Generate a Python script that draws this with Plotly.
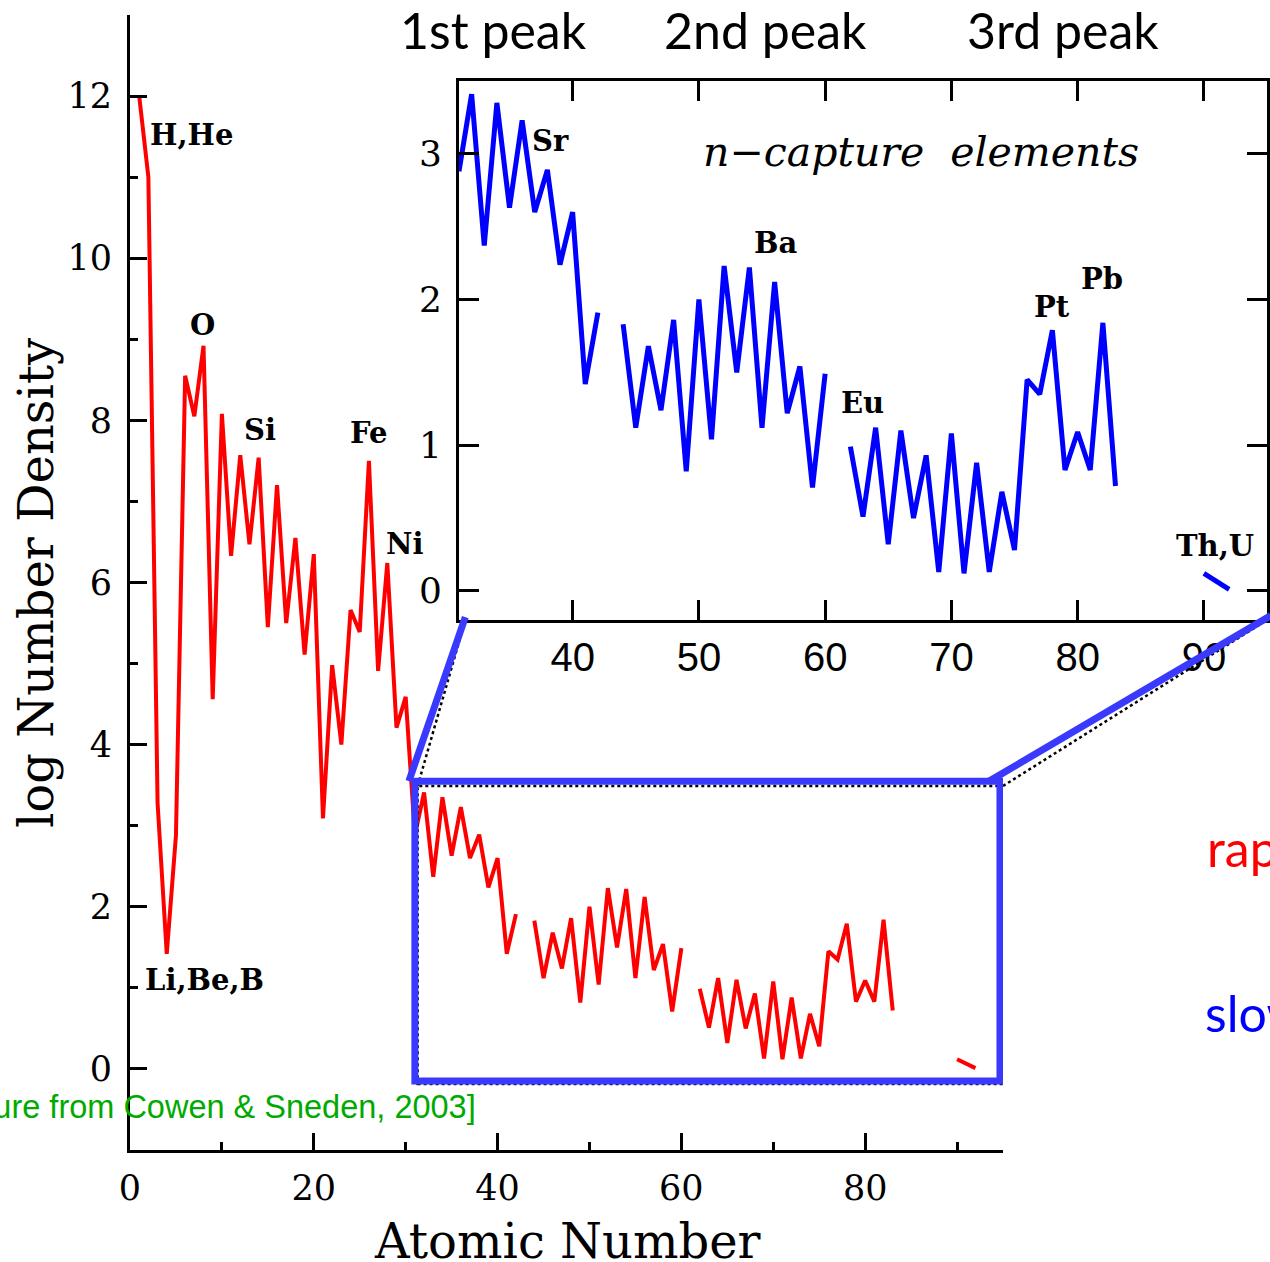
import plotly.graph_objects as go

# ---------------- data ----------------
# Z = atomic number, v = log number density
seg1_z = list(range(1, 43))
seg1_v = [12.00, 11.00, 3.28, 1.42, 2.88, 8.55, 8.05, 8.92, 4.56, 8.08,
          6.33, 7.57, 6.47, 7.54, 5.45, 7.20, 5.50, 6.55, 5.11, 6.35,
          3.09, 4.98, 4.00, 5.66, 5.39, 7.50, 4.91, 6.24, 4.21, 4.59,
          2.88, 3.41, 2.37, 3.35, 2.63, 3.23, 2.60, 2.89, 2.24, 2.60,
          1.42, 1.91]
seg2_z = list(range(44, 61))
seg2_v = [1.83, 1.12, 1.68, 1.24, 1.86, 0.82, 2.00, 1.04, 2.23, 1.50,
          2.22, 1.12, 2.12, 1.22, 1.54, 0.71, 1.49]
seg3_z = list(range(62, 84))
seg3_v = [0.99, 0.51, 1.12, 0.32, 1.10, 0.50, 0.93, 0.13, 1.08, 0.12,
          0.88, 0.13, 0.68, 0.28, 1.45, 1.35, 1.79, 0.83, 1.09, 0.83,
          1.84, 0.72]
thu_z = [90, 92]
thu_v = [0.12, 0.01]

main_labels = ["H,He", "O", "Si", "Fe", "Ni", "Li,Be,B"]
inset_labels = ["Sr", "Ba", "Eu", "Pt", "Pb", "Th,U"]
peak_labels = ["1st peak", "2nd peak", "3rd peak"]

# concatenate segments with gaps
def joined(*segs):
    out = []
    for i, s in enumerate(segs):
        if i:
            out.append(None)
        out.extend(s)
    return out

Z = joined(seg1_z, seg2_z, seg3_z, thu_z)
V = joined(seg1_v, seg2_v, seg3_v, thu_v)
Zi = joined(seg1_z[30:], seg2_z, seg3_z, thu_z)
Vi = joined(seg1_v[30:], seg2_v, seg3_v, thu_v)

# ---------------- layout geometry ----------------
W, H = 1270, 1262
MXD = [130 / W, 1003 / W]
MYD = [1 - 1150 / H, 1 - 15 / H]
IXD = [459 / W, 1267 / W]
IYD = [1 - 620 / H, 1 - 81 / H]
MXR = [0, 95]
MYR = [-1, 13]
IXR = [31, 95]
IYR = [-0.2, 3.5]

def to_paper(x, y, xd, yd, xr, yr):
    px = xd[0] + (x - xr[0]) / (xr[1] - xr[0]) * (xd[1] - xd[0])
    py = yd[0] + (y - yr[0]) / (yr[1] - yr[0]) * (yd[1] - yd[0])
    return px, py

def main_p(x, y):
    return to_paper(x, y, MXD, MYD, MXR, MYR)

def inset_p(x, y):
    return to_paper(x, y, IXD, IYD, IXR, IYR)

SERIF = "DejaVu Serif"
SANS = "Lato"
ZOOMBLUE = "#3a3aff"

fig = go.Figure()
fig.add_trace(go.Scatter(x=Z, y=V, mode="lines", xaxis="x", yaxis="y",
                         line=dict(color="#ff0000", width=4), showlegend=False,
                         hoverinfo="skip"))
fig.add_trace(go.Scatter(x=Zi, y=Vi, mode="lines", xaxis="x2", yaxis="y2",
                         line=dict(color="#0000ff", width=5), showlegend=False,
                         hoverinfo="skip"))

axis_common = dict(showgrid=False, zeroline=False, linecolor="black", automargin=False,
                   linewidth=3, ticks="inside", tickcolor="black", tickwidth=3)

fig.update_layout(
    width=W, height=H, margin=dict(l=0, r=0, t=0, b=0, autoexpand=False),
    paper_bgcolor="white", plot_bgcolor="rgba(0,0,0,0)",
    xaxis=dict(domain=MXD, range=MXR, anchor="y", showline=True, mirror=False,
               dtick=20, tick0=0, ticklen=17,
               minor=dict(dtick=10, ticklen=8, ticks="inside", tickwidth=3, tickcolor="black"),
               tickfont=dict(family=SERIF, size=35, color="black"),
               ticklabelstandoff=5, **axis_common),
    yaxis=dict(domain=MYD, range=MYR, anchor="x", showline=True, mirror=False,
               dtick=2, tick0=0, ticklen=17,
               minor=dict(dtick=1, ticklen=8, ticks="inside", tickwidth=3, tickcolor="black"),
               tickfont=dict(family=SERIF, size=35, color="black"),
               ticklabelstandoff=8, **axis_common),
    xaxis2=dict(domain=IXD, range=IXR, anchor="y2", showline=True, mirror="ticks",
                dtick=10, tick0=0, ticklen=20,
                tickfont=dict(family="Liberation Sans", size=40, color="black"),
                ticklabelstandoff=0, **axis_common),
    yaxis2=dict(domain=IYD, range=IYR, anchor="x2", showline=True, mirror="ticks",
                dtick=1, tick0=0, ticklen=20,
                tickfont=dict(family=SERIF, size=36, color="black"),
                ticklabelstandoff=7, **axis_common),
)

# white background for inset
shapes = [dict(type="rect", xref="paper", yref="paper", layer="below",
               x0=IXD[0], x1=IXD[1], y0=IYD[0], y1=IYD[1],
               fillcolor="white", line=dict(width=0))]

# dotted zoom box (exact inset range) and connectors
shapes.append(dict(type="rect", xref="x", yref="y", layer="above",
                   x0=31.3, x1=95.0, y0=-0.185, y1=3.49,
                   line=dict(color="black", width=2.5, dash="dot")))
a = main_p(31.3, 3.49); b = inset_p(31.5, -0.2)
shapes.append(dict(type="line", xref="paper", yref="paper", layer="above",
                   x0=a[0], y0=a[1], x1=b[0], y1=b[1],
                   line=dict(color="black", width=2.5, dash="dot")))
a = main_p(95.0, 3.49); b = inset_p(95.0, -0.2)
shapes.append(dict(type="line", xref="paper", yref="paper", layer="above",
                   x0=a[0], y0=a[1], x1=b[0], y1=b[1],
                   line=dict(color="black", width=2.5, dash="dot")))

# blue zoom box and connectors
shapes.append(dict(type="rect", xref="x", yref="y", layer="above",
                   x0=31.0, x1=94.67, y0=-0.148, y1=3.55,
                   line=dict(color=ZOOMBLUE, width=7)))
a = main_p(30.35, 3.55); b = inset_p(31.5, -0.18)
shapes.append(dict(type="line", xref="paper", yref="paper", layer="above",
                   x0=a[0], y0=a[1], x1=b[0], y1=b[1],
                   line=dict(color=ZOOMBLUE, width=7)))
a = main_p(93.5, 3.55); b = inset_p(95.3, -0.17)
shapes.append(dict(type="line", xref="paper", yref="paper", layer="above",
                   x0=a[0], y0=a[1], x1=b[0], y1=b[1],
                   line=dict(color=ZOOMBLUE, width=7)))
fig.update_layout(shapes=shapes)

ann = []
# main element labels
main_pos = [(1.96, 11.52, "left"), (7.94, 9.18, "center"), (12.2, 7.88, "left"),
            (23.7, 7.85, "left"), (27.6, 6.48, "left"), (1.41, 1.10, "left")]
for t, (x, y, xa) in zip(main_labels, main_pos):
    ann.append(dict(text="<b>%s</b>" % t, x=x, y=y, xref="x", yref="y", xanchor=xa,
                    yanchor="middle", showarrow=False,
                    font=dict(family=SERIF, size=29, color="black")))
inset_pos = [(36.6, 3.09), (54.2, 2.39), (61.1, 1.29), (76.4, 1.95), (80.1, 2.14), (87.6, 0.31)]
for t, (x, y) in zip(inset_labels, inset_pos):
    ann.append(dict(text="<b>%s</b>" % t, x=x, y=y, xref="x2", yref="y2", xanchor="left",
                    yanchor="middle", showarrow=False,
                    font=dict(family=SERIF, size=29, color="black")))
ann.append(dict(text="<i>n\u2212capture  elements</i>", x=67.6, y=3.01, xref="x2", yref="y2",
                xanchor="center", yanchor="middle", showarrow=False,
                font=dict(family=SERIF, size=41, color="black")))
# axis titles
ann.append(dict(text="log Number Density", x=36 / W, y=1 - 583 / H, xref="paper", yref="paper",
                textangle=-90, showarrow=False, xanchor="center", yanchor="middle",
                font=dict(family=SERIF, size=48, color="black")))
ann.append(dict(text="Atomic Number", x=567 / W, y=1 - 1241 / H, xref="paper", yref="paper",
                showarrow=False, xanchor="center", yanchor="middle",
                font=dict(family=SERIF, size=48, color="black")))
# peak labels
for t, cx in zip(peak_labels, [493, 765, 1063]):
    ann.append(dict(text=t, x=cx / W, y=1 - 30 / H, xref="paper", yref="paper",
                    showarrow=False, xanchor="center", yanchor="middle",
                    font=dict(family=SANS, size=50, color="black")))
# side texts (cut at the page edge)
ann.append(dict(text="rapid", x=1205 / W, y=1 - 848 / H, xref="paper", yref="paper",
                showarrow=False, xanchor="left", yanchor="middle",
                font=dict(family=SANS, size=50, color="#ff0000")))
ann.append(dict(text="slow", x=1203 / W, y=1 - 1013 / H, xref="paper", yref="paper",
                showarrow=False, xanchor="left", yanchor="middle",
                font=dict(family=SANS, size=50, color="#0000ff")))
ann.append(dict(text="[figure from Cowen &amp; Sneden, 2003]", x=478 / W, y=1 - 1107 / H,
                xref="paper", yref="paper", showarrow=False, xanchor="right", yanchor="middle",
                font=dict(family="Liberation Sans", size=32.5, color="#00aa00")))
fig.update_layout(annotations=ann)

fig.write_html("out.html")
